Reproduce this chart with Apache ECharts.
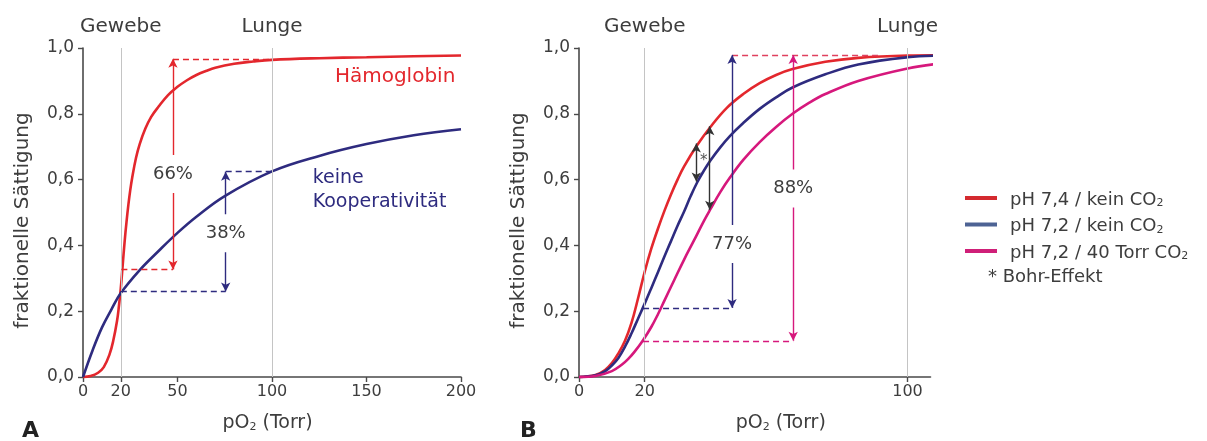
<!DOCTYPE html>
<html><head><meta charset="utf-8">
<script src="https://cdn.jsdelivr.net/npm/echarts@6/dist/echarts.min.js"></script>
<style>html,body{margin:0;padding:0;background:#fff}#c{width:1207px;height:441px}</style>
</head><body><div id="c"></div>
<script>
// ---------- data ----------
const xTicksA = [0, 20, 50, 100, 150, 200];
const xTicksB = [0, 20, 100];
const yTicks = [0, 0.2, 0.4, 0.6, 0.8, 1.0];
const zoneNames = ['Gewebe', 'Lunge'];
const zonePO2 = [20, 100];

// Panel A: [pO2, fractional saturation]
const haemoglobinA = [[0,0],[4,0.003],[8,0.013],[11,0.03],[14,0.068],[16,0.11],[18,0.17],[19,0.215],[20,0.27],[21,0.34],[22,0.41],[23,0.47],[24,0.523],[25,0.568],[26,0.605],[28,0.665],[30,0.708],[33,0.755],[36,0.79],[40,0.822],[45,0.857],[50,0.882],[55,0.902],[60,0.918],[65,0.93],[70,0.94],[80,0.952],[90,0.959],[100,0.964],[125,0.969],[150,0.972],[175,0.975],[200,0.977]];
const nonCoopA = [[0,0],[5,0.08],[10,0.15],[15,0.205],[20,0.255],[30,0.325],[40,0.383],[50,0.438],[60,0.487],[75,0.55],[100,0.625],[125,0.672],[150,0.708],[175,0.735],[200,0.753]];

// Panel B
const seriesNamesB = ['pH 7,4 / kein CO2', 'pH 7,2 / kein CO2', 'pH 7,2 / 40 Torr CO2'];
const ph74 = [[0,0],[5,0.006],[8,0.022],[10,0.042],[12,0.072],[14,0.11],[16,0.165],[18,0.24],[20,0.32],[22,0.39],[24,0.45],[26,0.505],[28,0.555],[30,0.6],[32,0.64],[36,0.705],[40,0.76],[45,0.818],[50,0.86],[55,0.893],[60,0.918],[65,0.936],[75,0.958],[85,0.97],[100,0.977],[110,0.978]];
const ph72 = [[0,0],[5,0.005],[8,0.018],[10,0.035],[12,0.058],[14,0.092],[16,0.133],[18,0.178],[20,0.223],[22,0.27],[24,0.318],[26,0.366],[28,0.413],[30,0.46],[32,0.503],[34,0.55],[36,0.592],[38,0.627],[40,0.658],[43,0.698],[46,0.733],[50,0.772],[55,0.815],[60,0.85],[65,0.88],[75,0.92],[85,0.95],[100,0.972],[110,0.977]];
const ph72co2 = [[0,0],[5,0.003],[10,0.018],[13,0.037],[15,0.055],[17,0.078],[19.5,0.112],[22,0.152],[24,0.19],[26,0.232],[29,0.295],[32,0.357],[35,0.415],[38,0.474],[40,0.51],[43,0.562],[46,0.607],[50,0.66],[55,0.714],[60,0.76],[65,0.8],[70,0.833],[75,0.86],[85,0.9],[100,0.938],[110,0.953]];

// annotations: [x, yFrom, yTo, label]
const arrowsA = [[47.6, 0.327, 0.967, '66%'], [75.5, 0.26, 0.624, '38%']];
const dashesA = [[20.3, 47.6, 0.327], [47.6, 100, 0.967], [20, 75.5, 0.26], [75.5, 100, 0.624]];
const arrowsB = [[46.6, 0.21, 0.979, '77%'], [65.2, 0.11, 0.979, '88%']];
const bohrArrows = [[35.7, 0.594, 0.71], [39.8, 0.508, 0.762]];
const dashesB = [[19.5, 46.6, 0.21], [19.5, 65.2, 0.11], [46.6, 92, 0.979]];

// ---------- style ----------
const FONT = 'DejaVu Sans';
const TXT = '#3d3d3d';
const RED = '#e3272d', NAVY = '#2e2b7f', MAG = '#d6187c';
const legendColors = ['#d42a2f', '#4d6394', '#cf1f78'];

const chart = echarts.init(document.getElementById('c'));

function xAxisCfg(idx, max, ticks, nameShift) {
  return {
    type: 'value', gridIndex: idx, min: 0, max: max,
    name: '{a|pO}{s|2}{a| (Torr)}', nameLocation: 'middle', nameGap: 34,
    nameTextStyle: {padding: nameShift, rich: {
      a: {fontFamily: FONT, fontSize: 19, color: TXT, lineHeight: 22, verticalAlign: 'bottom'},
      s: {fontFamily: FONT, fontSize: 11, color: TXT, lineHeight: 14, verticalAlign: 'bottom'}
    }},
    axisLine: {show: true, onZero: false, lineStyle: {color: '#4a4a4a', width: 1.6}},
    axisTick: {show: true, customValues: ticks, length: 5, lineStyle: {color: '#4a4a4a', width: 1.4}},
    axisLabel: {customValues: ticks, margin: 7, fontFamily: FONT, fontSize: 16, color: TXT},
    splitLine: {show: false}
  };
}
function yAxisCfg(idx) {
  return {
    type: 'value', gridIndex: idx, min: 0, max: 1, interval: 0.2,
    name: 'fraktionelle Sättigung', nameLocation: 'middle', nameGap: 50,
    nameTextStyle: {fontFamily: FONT, fontSize: 20, color: TXT, padding: [0, 16, 0, 0]},
    axisLine: {show: true, lineStyle: {color: '#4a4a4a', width: 1.6}},
    axisTick: {show: true, length: 5, lineStyle: {color: '#4a4a4a', width: 1.4}},
    axisLabel: {margin: 9, fontFamily: FONT, fontSize: 17, color: TXT,
      formatter: v => v.toFixed(1).replace('.', ',')},
    splitLine: {show: false}
  };
}
function zoneMarkLine() {
  return {
    silent: true, symbol: ['none', 'none'], animation: false,
    lineStyle: {color: '#c4c4c4', width: 1, type: 'solid'},
    label: {show: true, position: 'end', formatter: '{b}', distance: 11,
      fontFamily: FONT, fontSize: 20, color: TXT},
    data: zonePO2.map((x, i) => ({xAxis: x, name: zoneNames[i]}))
  };
}
function dashSeries(idx, list, colors) {
  return {
    type: 'line', xAxisIndex: idx, yAxisIndex: idx, data: [], silent: true,
    markLine: {silent: true, symbol: ['none', 'none'], animation: false, label: {show: false},
      data: list.map((d, i) => [
        {coord: [d[0], d[2]], lineStyle: {color: colors[i], width: 1.4, type: [6, 4]}},
        {coord: [d[1], d[2]]}
      ])}
  };
}
function arrowSeries(idx, list, colors) {
  return {
    type: 'line', xAxisIndex: idx, yAxisIndex: idx, data: [], silent: true, z: 3,
    markLine: {silent: true, symbol: ['arrow', 'arrow'], symbolSize: [7, 9], animation: false,
      label: {show: false},
      data: list.map((d, i) => [
        {coord: [d[0], d[1]], lineStyle: {color: colors[i], width: 1.4, type: 'solid'}},
        {coord: [d[0], d[2]]}
      ])}
  };
}
function pctLabel(x, y, text) {
  return {value: [x, y], label: {show: true, position: 'inside', formatter: text,
    fontFamily: FONT, fontSize: 18, color: TXT, backgroundColor: '#fff', padding: [10, 3]}};
}

const curve = (name, idx, data, color) => ({
  name, type: 'line', xAxisIndex: idx, yAxisIndex: idx, data, showSymbol: false,
  smooth: 0.4, clip: false,
  lineStyle: {color, width: 2.6}, itemStyle: {color}
});

const labelSeries = (idx, data) => ({
  type: 'scatter', xAxisIndex: idx, yAxisIndex: idx, symbolSize: 0, silent: true, z: 5,
  itemStyle: {opacity: 1}, data
});

const option = {
  animation: false,
  backgroundColor: '#fff',
  grid: [
    {left: 83, top: 48, width: 378, height: 329},
    {left: 579, top: 48, width: 351.5, height: 329}
  ],
  xAxis: [xAxisCfg(0, 200, xTicksA, [0, 9, 0, 0]), xAxisCfg(1, 107, xTicksB, [0, 0, 0, 52])],
  yAxis: [yAxisCfg(0), yAxisCfg(1)],
  legend: {
    data: seriesNamesB.map((n, i) => ({name: n, itemStyle: {color: legendColors[i]}})),
    left: 960, top: 186, orient: 'vertical', icon: 'rect', itemWidth: 32, itemHeight: 4,
    itemGap: 8.5, selectedMode: false,
    formatter: n => '{t|' + n.slice(0, -1) + '}{s|2}',
    textStyle: {rich: {
      t: {fontFamily: FONT, fontSize: 18, color: TXT, lineHeight: 22, verticalAlign: 'bottom', padding: [0, 0, 0, 8]},
      s: {fontFamily: FONT, fontSize: 11, color: TXT, lineHeight: 14, verticalAlign: 'bottom'}
    }}
  },
  graphic: [
    {type: 'text', left: 22, top: 420, style: {text: 'A', font: 'bold 22px "DejaVu Sans"', fill: '#222'}},
    {type: 'text', left: 520, top: 420, style: {text: 'B', font: 'bold 22px "DejaVu Sans"', fill: '#222'}},
    {type: 'text', left: 988, top: 268, style: {text: '* Bohr-Effekt', font: '18px "DejaVu Sans"', fill: TXT}}
  ],
  series: [
    Object.assign(curve('Hämoglobin', 0, haemoglobinA, RED), {markLine: zoneMarkLine()}),
    curve('keine Kooperativität', 0, nonCoopA, NAVY),
    dashSeries(0, dashesA, [RED, RED, NAVY, NAVY]),
    arrowSeries(0, arrowsA, [RED, NAVY]),
    labelSeries(0, [
      ...arrowsA.map(a => pctLabel(a[0], (a[1] + a[2]) / 2 + (a[3] === '66%' ? -0.03 : -0.005), a[3])),
      {value: [197, 0.912], label: {show: true, position: 'left', distance: 0, formatter: 'Hämoglobin',
        fontFamily: FONT, fontSize: 20, color: RED}},
      {value: [121.5, 0.568], label: {show: true, position: 'right', distance: 0,
        formatter: 'keine\nKooperativität', lineHeight: 24, fontFamily: FONT, fontSize: 19, color: NAVY}}
    ]),
    Object.assign(curve(seriesNamesB[0], 1, ph74, RED), {markLine: zoneMarkLine()}),
    curve(seriesNamesB[1], 1, ph72, NAVY),
    curve(seriesNamesB[2], 1, ph72co2, MAG),
    dashSeries(1, dashesB, [NAVY, MAG, '#e0405e']),
    arrowSeries(1, arrowsB.concat(bohrArrows), [NAVY, MAG, '#333', '#333']),
    labelSeries(1, [
      pctLabel(46.6, 0.404, '77%'),
      pctLabel(65.2, 0.573, '88%'),
      {value: [38, 0.655], label: {show: true, position: 'inside', formatter: '*',
        fontFamily: FONT, fontSize: 15, color: '#555'}}
    ])
  ]
};
chart.setOption(option);
</script></body></html>
